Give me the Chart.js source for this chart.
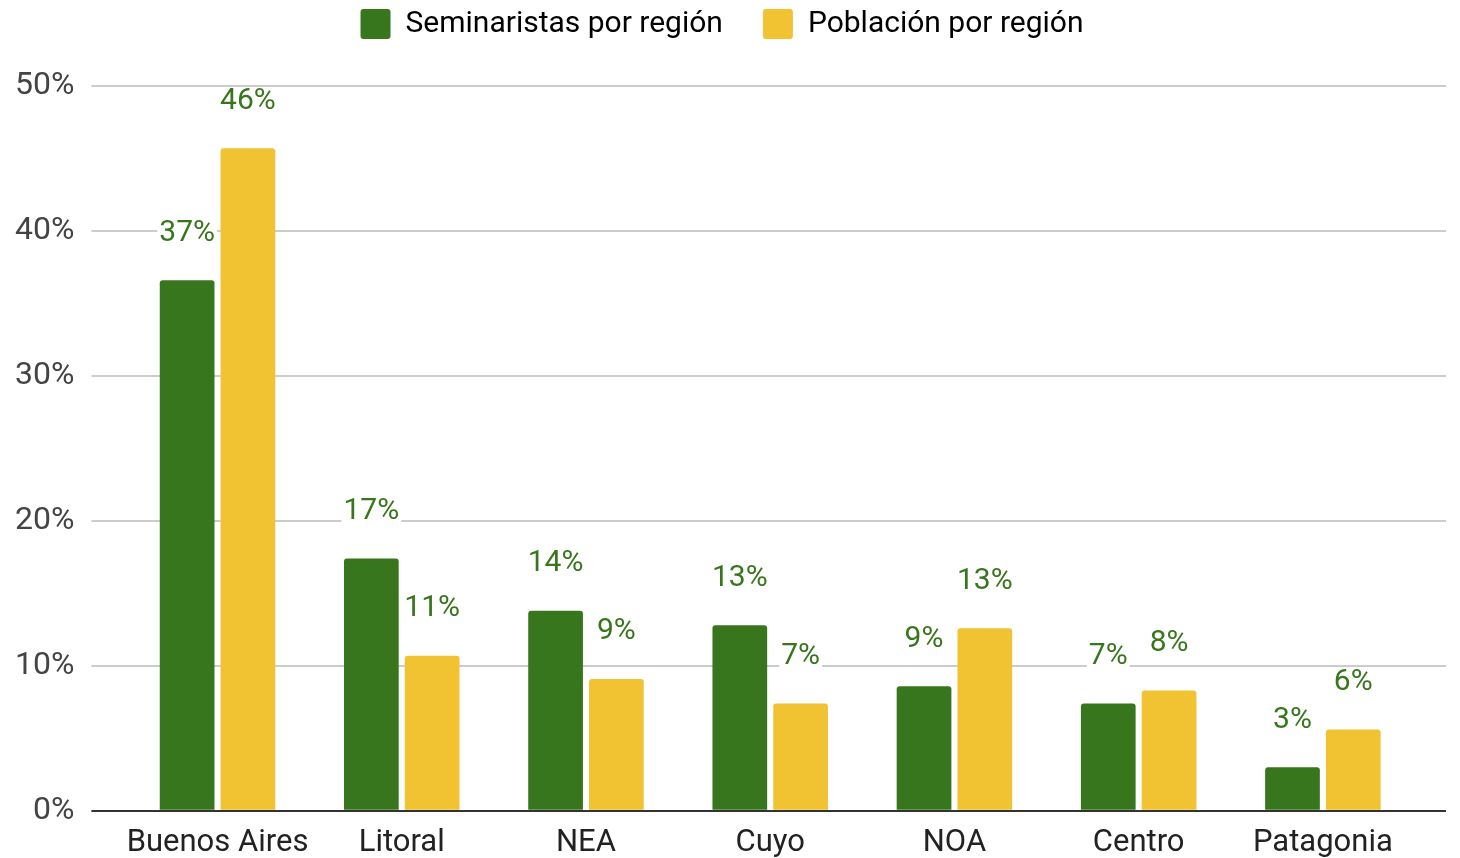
<!DOCTYPE html>
<html>
<head>
<meta charset="utf-8">
<script src="https://cdn.jsdelivr.net/npm/chart.js@4"></script>
<style>
  html, body { margin: 0; padding: 0; background: #fff; }
  #wrap { width: 1460px; height: 858px; }
</style>
</head>
<body>
<div id="wrap"><canvas id="chartcanvas" width="1460" height="858"></canvas></div>
<script>
// datos
var regiones = ["Buenos Aires", "Litoral", "NEA", "Cuyo", "NOA", "Centro", "Patagonia"];
var seminaristas = [36.6, 17.4, 13.8, 12.8, 8.6, 7.4, 3.0];
var poblacion = [45.7, 10.7, 9.1, 7.4, 12.6, 8.3, 5.6];
var yTicks = [0, 10, 20, 30, 40, 50];

var verde = "#38761d";
var amarillo = "#f1c232";

function gridColor(ctx) {
	return ctx.tick && ctx.tick.value === 0 ? "#333333" : "#cccccc";
}

// etiquetas encima de cada barra, con fondo blanco
var etiquetas = {
	id: "etiquetas",
	afterDatasetsDraw: function(chart) {
		var ctx = chart.ctx;
		ctx.save();
		ctx.font = "30px Roboto";
		ctx.textAlign = "center";
		ctx.textBaseline = "middle";
		chart.data.datasets.forEach(function(ds, i) {
			var meta = chart.getDatasetMeta(i);
			meta.data.forEach(function(bar, j) {
				var txt = Math.round(ds.data[j]) + "%";
				var w = ctx.measureText(txt).width;
				var y = bar.y - 47;
				ctx.fillStyle = "#ffffff";
				ctx.fillRect(bar.x - w / 2 - 2, y - 14, w + 4, 28);
				ctx.fillStyle = verde;
				ctx.fillText(txt, bar.x, y);
			});
		});
		ctx.restore();
	}
};

// mas espacio debajo de la leyenda
var leyendaAlta = {
	id: "leyendaAlta",
	beforeInit: function(chart) {
		var fitOrig = chart.legend.fit;
		chart.legend.fit = function() {
			fitOrig.call(this);
			this.height += 37;
		};
	}
};

var chartdata = {
	labels: regiones,
	datasets: [
		{
			label: "Seminaristas por región",
			backgroundColor: verde,
			borderRadius: { topLeft: 3, topRight: 3 },
			borderSkipped: false,
			data: seminaristas
		},
		{
			label: "Población por región",
			backgroundColor: amarillo,
			borderRadius: { topLeft: 3, topRight: 3 },
			borderSkipped: false,
			data: poblacion
		}
	]
};

var ctx = document.getElementById("chartcanvas");

var BarGraph = new Chart(ctx, {
	type: "bar",
	data: chartdata,
	plugins: [etiquetas, leyendaAlta],
	options: {
		responsive: false,
		animation: false,
		layout: { padding: { left: -2, right: 14, top: -31, bottom: -18 } },
		datasets: {
			bar: { categoryPercentage: 0.66, barPercentage: 0.9 }
		},
		plugins: {
			tooltip: { enabled: false },
			legend: {
				position: "top",
				labels: {
					boxWidth: 30,
					boxHeight: 30,
					padding: 40,
					color: "#333333",
					font: { family: "Roboto", size: 30 },
					generateLabels: function(chart) {
						return chart.data.datasets.map(function(ds, i) {
							return {
								text: ds.label,
								fillStyle: ds.backgroundColor,
								strokeStyle: ds.backgroundColor,
								lineWidth: 0,
								borderRadius: 3,
								datasetIndex: i
							};
						});
					}
				}
			}
		},
		scales: {
			x: {
				grid: { display: false, drawTicks: false },
				border: { display: false },
				ticks: {
					color: "#222222",
					padding: 14,
					maxRotation: 0,
					minRotation: 0,
					autoSkip: false,
					font: { family: "Roboto", size: 31 }
				}
			},
			y: {
				min: 0,
				max: 50,
				afterBuildTicks: function(axis) {
					axis.ticks = yTicks.map(function(v) { return { value: v }; });
				},
				border: { display: false },
				grid: { color: gridColor, lineWidth: 2, tickLength: 34 },
				ticks: {
					color: "#444444",
					padding: 17,
					font: { family: "Roboto", size: 32 },
					callback: function(v) { return v + "%"; }
				}
			},
			y2: {
				position: "right",
				min: 0,
				max: 50,
				afterBuildTicks: function(axis) {
					axis.ticks = yTicks.map(function(v) { return { value: v }; });
				},
				border: { display: false },
				grid: { color: gridColor, lineWidth: 2, tickLength: 31, drawOnChartArea: false },
				ticks: { display: false }
			}
		}
	}
});
</script>
</body>
</html>
